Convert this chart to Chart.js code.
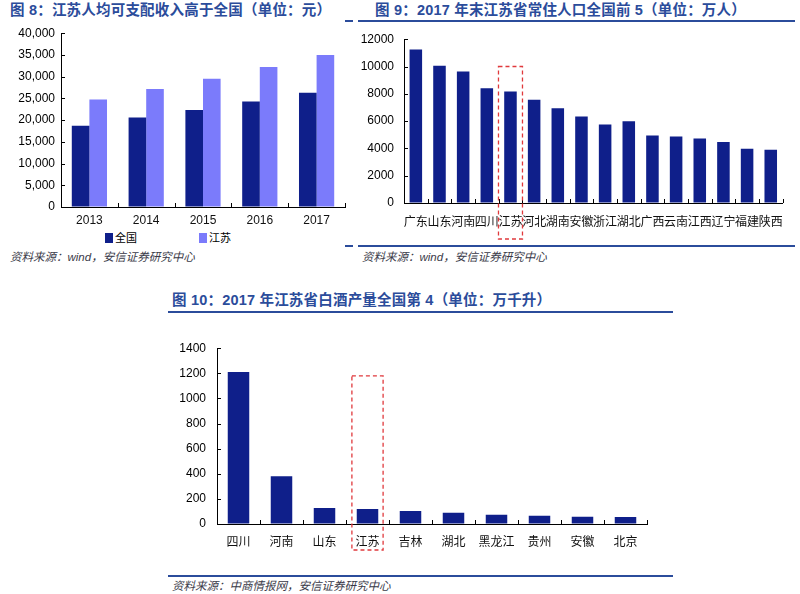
<!DOCTYPE html>
<html><head><meta charset="utf-8">
<script src="https://cdn.jsdelivr.net/npm/chart.js@4.4.1/dist/chart.umd.min.js"></script>
<style>
body{margin:0;width:800px;height:594px;background:#fff;position:relative;overflow:hidden;font-family:'Liberation Sans','Noto Sans CJK SC',sans-serif}
.t{position:absolute;font-weight:bold;font-size:14.5px;letter-spacing:0.2px;color:#2b4c9b;white-space:nowrap;line-height:20px}
.s{position:absolute;font-style:italic;font-size:11.5px;color:#3a3a48;white-space:nowrap;line-height:14px}
.l{position:absolute;height:2px;background:#2b4c9b}
canvas{position:absolute}
.lg{position:absolute;font-size:11px;line-height:12px;color:#000;white-space:nowrap;font-family:'Noto Sans CJK SC',sans-serif}
.sw{display:inline-block;width:8px;height:10px;vertical-align:-1px;margin-right:2px}
</style></head><body>

<div class="t" style="left:10px;top:0px">图 8：江苏人均可支配收入高于全国（单位：元）</div>
<div class="t" style="left:375px;top:0px">图 9：2017 年末江苏省常住人口全国前 5（单位：万人）</div>
<div class="t" style="left:172px;top:290px">图 10：2017 年江苏省白酒产量全国第 4（单位：万千升）</div>

<div class="l" style="left:345px;top:20px;width:8px"></div>
<div class="l" style="left:358px;top:20px;width:437px"></div>
<div class="l" style="left:345px;top:245px;width:8px"></div>
<div class="l" style="left:358px;top:245px;width:437px"></div>
<div class="l" style="left:168px;top:311px;width:505px"></div>
<div class="l" style="left:168px;top:575px;width:505px"></div>

<div class="s" style="left:10px;top:250px">资料来源：wind，安信证券研究中心</div>
<div class="s" style="left:362px;top:250px">资料来源：wind，安信证券研究中心</div>
<div class="s" style="left:172px;top:579px">资料来源：中商情报网，安信证券研究中心</div>

<div id="lg1" class="lg" style="left:105px;top:231px"></div>
<div id="lg2" class="lg" style="left:199px;top:231px"></div>

<canvas id="c1" width="350" height="212" style="left:0px;top:20px"></canvas>
<canvas id="c2" width="435" height="222" style="left:360px;top:22px"></canvas>
<canvas id="c3" width="500" height="225" style="left:160px;top:330px"></canvas>

<script>
// ---- Data ----
const years = ['2013', '2014', '2015', '2016', '2017'];
const nationalIncome = [18700, 20600, 22300, 24300, 26300];
const jiangsuIncome = [24750, 27130, 29520, 32210, 34980];
const incomeTicks = [0, 5000, 10000, 15000, 20000, 25000, 30000, 35000, 40000];

const provinces = ['广东','山东','河南','四川','江苏','河北','湖南','安徽','浙江','湖北','广西','云南','江西','辽宁','福建','陕西'];
const population = [11250, 10060, 9630, 8400, 8160, 7570, 6950, 6330, 5760, 5990, 4950, 4880, 4730, 4470, 3970, 3900];
const popTicks = [0, 2000, 4000, 6000, 8000, 10000, 12000];

const liquorProvinces = ['四川','河南','山东','江苏','吉林','湖北','黑龙江','贵州','安徽','北京'];
const liquorOutput = [1210, 380, 127, 119, 103, 90, 74, 66, 58, 56];
const liquorTicks = [0, 200, 400, 600, 800, 1000, 1200, 1400];

// ---- Styles ----
const DARK = '#0f1f8a';
const LIGHT = '#7b7bfb';
const FONT = "'Liberation Sans','Noto Sans CJK SC',sans-serif";

document.getElementById('lg1').innerHTML = '<span class="sw" style="background:' + DARK + '"></span>全国';
document.getElementById('lg2').innerHTML = '<span class="sw" style="background:' + LIGHT + '"></span>江苏';

const inwardTicks = {
  id: 'inwardTicks',
  afterDraw(chart, args, opts) {
    const ctx = chart.ctx, a = chart.chartArea, x = chart.scales.x, y = chart.scales.y;
    ctx.save();
    ctx.strokeStyle = '#000';
    ctx.lineWidth = 1;
    ctx.beginPath();
    y.ticks.forEach(t => {
      const py = Math.round(y.getPixelForValue(t.value)) + 0.5;
      ctx.moveTo(a.left, py); ctx.lineTo(a.left + opts.len, py);
    });
    const n = x.ticks.length;
    for (let i = 1; i <= n; i++) {
      const px = Math.round(x.left + i * x.width / n) + 0.5;
      ctx.moveTo(px, a.bottom); ctx.lineTo(px, a.bottom - opts.len);
    }
    ctx.stroke();
    if (opts.box) {
      const b = opts.box;
      const cx = x.getPixelForValue(b.index);
      const top = y.getPixelForValue(b.top);
      const bottom = a.bottom + b.below;
      ctx.strokeStyle = '#e0393c';
      ctx.lineWidth = 1.3;
      ctx.setLineDash([4, 3]);
      ctx.strokeRect(cx - b.half, top, b.half * 2, bottom - top);
    }
    ctx.restore();
  }
};

function yScale(ticks, width, pad, fmt) {
  return {
    min: ticks[0], max: ticks[ticks.length - 1],
    afterBuildTicks: s => { s.ticks = ticks.map(v => ({ value: v })); },
    afterFit: s => { s.width = width; },
    grid: { display: true, drawOnChartArea: false, drawTicks: false },
    border: { display: true, color: '#000', width: 1 },
    ticks: { color: '#000', padding: pad, font: { family: FONT, size: 12 }, callback: fmt }
  };
}
function xScale(height, pad) {
  return {
    afterFit: s => { s.height = height; },
    grid: { display: true, drawOnChartArea: false, drawTicks: false },
    border: { display: true, color: '#000', width: 1 },
    ticks: { color: '#111', padding: pad, autoSkip: false, maxRotation: 0, minRotation: 0, font: { family: FONT, size: 12 } }
  };
}
function opts(padding, xs, ys, tickOpts) {
  return {
    responsive: false, animation: false, maintainAspectRatio: false,
    layout: { padding: padding },
    scales: { x: xs, y: ys },
    plugins: { legend: { display: false }, tooltip: { enabled: false }, inwardTicks: tickOpts }
  };
}

// Chart 8
new Chart(document.getElementById('c1'), {
  type: 'bar',
  data: {
    labels: years,
    datasets: [
      { label: '全国', data: nationalIncome, backgroundColor: DARK, borderWidth: 0, categoryPercentage: 0.62, barPercentage: 1 },
      { label: '江苏', data: jiangsuIncome, backgroundColor: LIGHT, borderWidth: 0, categoryPercentage: 0.62, barPercentage: 1 }
    ]
  },
  options: opts({ top: 9, right: 5, left: 0, bottom: 0 }, xScale(25, 6),
    yScale(incomeTicks, 61, 6, v => v.toLocaleString('en-US')), { len: 4 }),
  plugins: [inwardTicks]
});

// Chart 9
new Chart(document.getElementById('c2'), {
  type: 'bar',
  data: {
    labels: provinces,
    datasets: [{ label: '常住人口', data: population, backgroundColor: DARK, borderWidth: 0, categoryPercentage: 1, barPercentage: 0.53 }]
  },
  options: opts({ top: 13, right: 8, left: 0, bottom: 0 }, xScale(41, 12),
    yScale(popTicks, 44, 10, v => String(v)),
    { len: 4, box: { index: 4, top: 10000, half: 12, below: 36 } }),
  plugins: [inwardTicks]
});

// Chart 10
new Chart(document.getElementById('c3'), {
  type: 'bar',
  data: {
    labels: liquorProvinces,
    datasets: [{ label: '白酒产量', data: liquorOutput, backgroundColor: DARK, borderWidth: 0, categoryPercentage: 1, barPercentage: 0.5 }]
  },
  options: opts({ top: 17, right: 13, left: 0, bottom: 0 }, xScale(31, 11),
    yScale(liquorTicks, 57, 11, v => String(v)),
    { len: 4, box: { index: 3, top: 1180, half: 15.6, below: 26 } }),
  plugins: [inwardTicks]
});
</script>
</body></html>
